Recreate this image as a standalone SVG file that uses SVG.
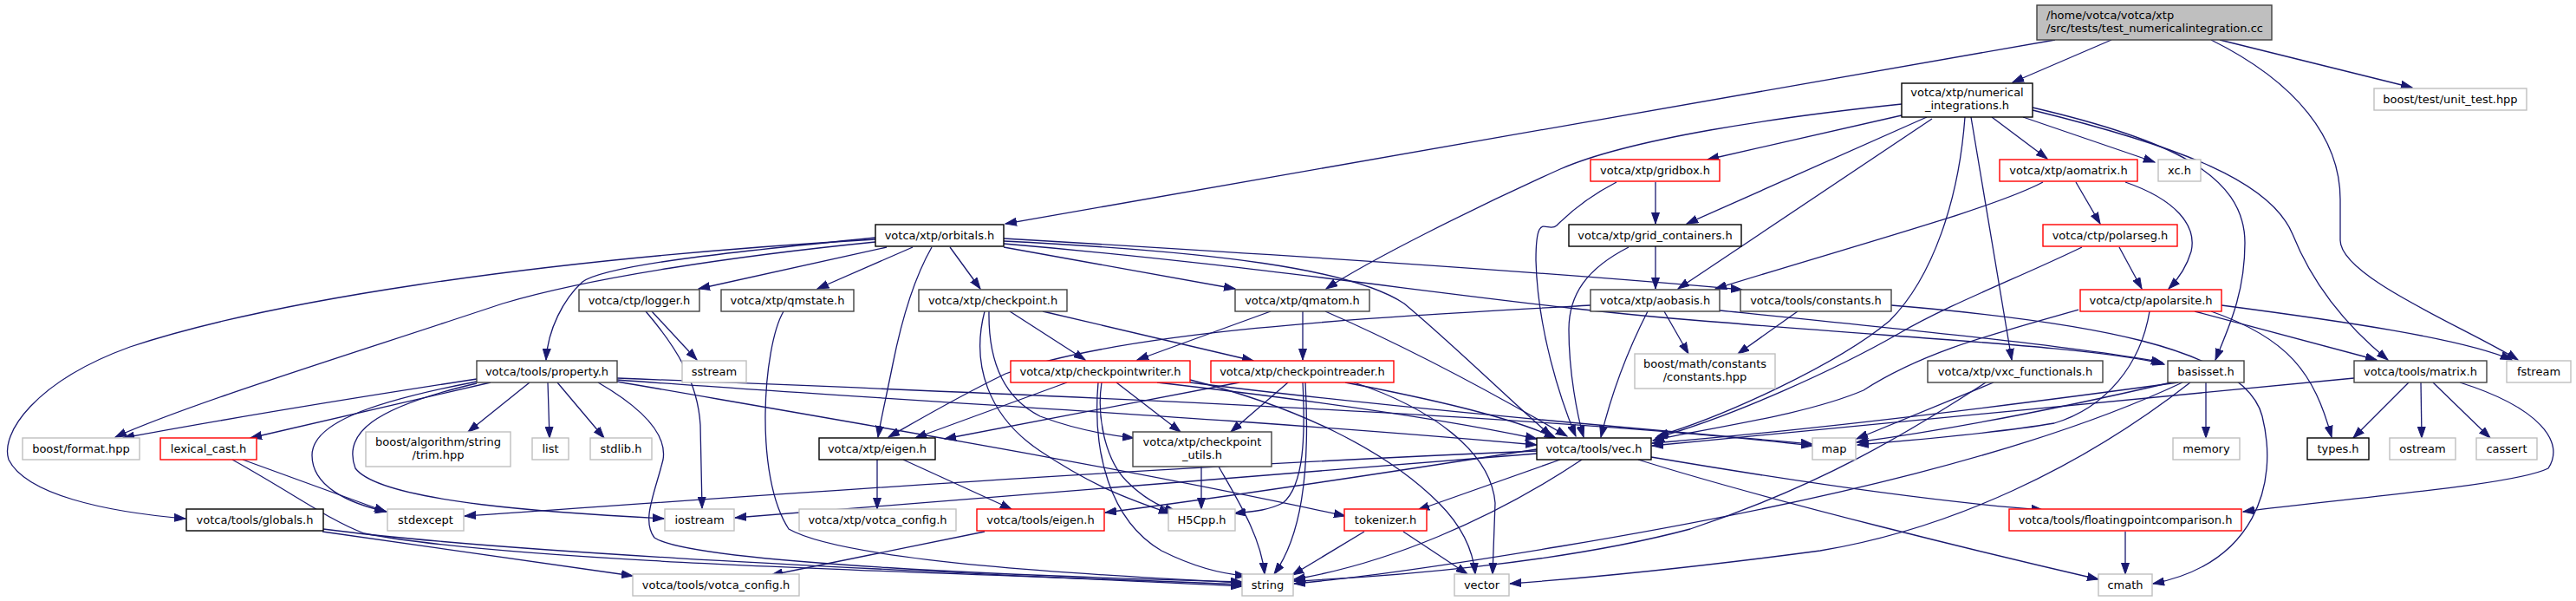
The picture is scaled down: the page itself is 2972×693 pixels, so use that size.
<svg xmlns="http://www.w3.org/2000/svg" width="2972" height="693" viewBox="0 0 2972 693">
<style>
rect{stroke-width:1.4}
.k rect{fill:#fff;stroke:#000}
.g rect{fill:#fff;stroke:#404040}
.r rect{fill:#fff;stroke:#ff0000}
.x rect{fill:#fff;stroke:#bfbfbf}
.root rect{fill:#bfbfbf;stroke:#404040}
text{font-family:"DejaVu Sans",sans-serif;font-size:13px;fill:#000;text-anchor:middle}
.root text{text-anchor:start}
#edges path{fill:none;stroke:#191970;stroke-width:1.3;marker-end:url(#ah)}
</style>
<defs>
<marker id="ah" markerWidth="14" markerHeight="10" refX="13" refY="5" orient="auto" markerUnits="userSpaceOnUse"><path d="M0,0.5 L13,5 L0,9.5 z" fill="#191970" stroke="#191970" stroke-width="1"/></marker>
</defs>
<rect width="2972" height="693" fill="#fff"/>
<g id="edges">
<path d="M2371,46 L1160,258"/>
<path d="M2436,46 L2322,95"/>
<path d="M2561,46 L2783,101"/>
<path d="M2551,46 C2650,95 2700,160 2700,230 L2700,277 C2700,320 2850,380 2905,415"/>
<path d="M2194,133 L1970,184"/>
<path d="M2223,135 L1946,258"/>
<path d="M2229,137 L1936,333"/>
<path d="M2194,120 C2050,135 1880,160 1800,195 C1700,240 1580,300 1530,333"/>
<path d="M2267,135 C2260,230 2230,320 2180,370 C2120,420 1990,480 1912,503"/>
<path d="M2274,135 L2321,415"/>
<path d="M2298,135 L2362,183"/>
<path d="M2334,135 L2486,187"/>
<path d="M2345,124 C2500,160 2590,200 2590,280 C2590,340 2570,380 2556,415"/>
<path d="M2345,127 C2520,170 2620,210 2645,270 C2665,320 2700,370 2755,415"/>
<path d="M1910,210 L1910,258"/>
<path d="M1865,210 C1830,228 1808,248 1796,260 C1785,270 1772,240 1772,300 C1774,380 1800,460 1818,503"/>
<path d="M1910,284 L1910,333"/>
<path d="M1879,285 C1830,310 1810,340 1810,380 C1810,430 1820,480 1827,504"/>
<path d="M2395,210 L2423,258"/>
<path d="M2452,210 C2510,230 2535,260 2528,290 C2522,310 2510,325 2502,333"/>
<path d="M2357,210 C2300,240 2150,280 1979,333"/>
<path d="M2445,285 L2471,333"/>
<path d="M2402,285 C2330,320 2250,350 2190,385 C2120,425 2000,480 1910,505"/>
<path d="M2563,352 C2700,370 2840,390 2898,415"/>
<path d="M2532,359 L2742,415"/>
<path d="M2551,359 C2640,390 2670,430 2690,504"/>
<path d="M2480,359 C2470,420 2430,470 2370,488 C2300,500 2200,508 2143,513"/>
<path d="M2398,357 C2300,385 2220,405 2150,450 C2080,480 1960,495 1907,508"/>
<path d="M1023,285 L806,333"/>
<path d="M1053,285 L943,333"/>
<path d="M1096,285 L1131,333"/>
<path d="M1158,285 L1425,333"/>
<path d="M1075,285 C1055,320 1040,370 1030,420 C1022,460 1016,485 1013,504"/>
<path d="M1010,274 C850,290 700,305 672,325 C650,345 632,380 630,415"/>
<path d="M1010,276 C600,300 300,350 150,400 C40,440 0,500 10,530 C30,570 120,590 214,598"/>
<path d="M1010,279 C850,295 680,320 580,350 C400,410 220,465 133,504"/>
<path d="M1158,275 C1500,295 1800,315 2010,334"/>
<path d="M1158,278 C1400,290 1560,310 1620,350 C1680,400 1740,460 1790,503"/>
<path d="M1158,281 C1500,310 1750,355 1990,372 C2200,390 2420,400 2497,420"/>
<path d="M752,359 L804,415"/>
<path d="M745,359 C780,400 805,440 808,490 L810,586"/>
<path d="M904,359 C880,400 870,550 910,610 C980,650 1300,665 1433,672"/>
<path d="M1165,359 L1252,415"/>
<path d="M1203,359 L1446,416"/>
<path d="M1136,359 C1120,420 1140,480 1200,520 C1260,560 1300,575 1350,592"/>
<path d="M1141,359 C1140,420 1160,460 1200,480 C1240,495 1280,502 1308,505"/>
<path d="M1503,359 L1503,415"/>
<path d="M1466,359 L1312,415"/>
<path d="M1529,359 C1600,390 1700,440 1808,503"/>
<path d="M1901,359 C1880,400 1860,450 1847,504"/>
<path d="M1920,359 L1948,408"/>
<path d="M1984,358 C2200,380 2400,400 2495,418"/>
<path d="M1835,352 C1600,365 1300,380 1160,431 C1100,460 1050,490 1025,504"/>
<path d="M2074,359 L2005,408"/>
<path d="M2182,352 C2400,370 2590,400 2610,480 C2630,560 2600,650 2484,673"/>
<path d="M550,437 C400,460 250,485 142,505"/>
<path d="M566,441 L289,505"/>
<path d="M611,441 L540,498"/>
<path d="M632,441 L634,505"/>
<path d="M643,441 L697,505"/>
<path d="M550,440 C420,465 360,490 360,525 C360,560 400,580 446,590"/>
<path d="M550,442 C430,470 395,500 410,540 C440,580 650,592 766,598"/>
<path d="M690,441 C740,470 770,500 765,530 C755,570 740,600 755,620 C800,650 1200,665 1433,671"/>
<path d="M712,438 C1000,460 1400,480 1773,513"/>
<path d="M712,436 C1200,455 1800,480 2091,514"/>
<path d="M712,440 C1000,490 1300,540 1552,595"/>
<path d="M280,530 L445,590"/>
<path d="M268,530 C340,570 380,600 420,615 C600,650 1100,660 1433,674"/>
<path d="M373,610 C600,640 1100,660 1433,676"/>
<path d="M372,613 L730,664"/>
<path d="M1012,530 L1012,587"/>
<path d="M1042,530 L1167,587"/>
<path d="M1231,441 L1056,505"/>
<path d="M1288,441 L1362,498"/>
<path d="M1271,441 C1265,480 1275,530 1300,555 C1320,575 1340,585 1357,590"/>
<path d="M1267,441 C1260,520 1280,600 1340,635 C1380,655 1410,662 1438,664"/>
<path d="M1335,441 C1500,460 1650,480 1773,506"/>
<path d="M1373,441 C1600,470 1900,495 2091,512"/>
<path d="M1373,438 C1500,470 1600,520 1660,580 C1690,610 1700,640 1702,662"/>
<path d="M1430,441 L1090,506"/>
<path d="M1486,441 L1420,498"/>
<path d="M1503,441 C1506,500 1505,560 1480,580 C1460,590 1440,590 1424,592"/>
<path d="M1506,441 C1512,550 1500,620 1470,662"/>
<path d="M1552,441 C1650,460 1740,480 1795,505"/>
<path d="M1562,441 C1650,470 1720,520 1725,580 L1722,662"/>
<path d="M1386,538 L1386,587"/>
<path d="M1406,538 C1430,580 1455,620 1459,662"/>
<path d="M1136,613 L890,663"/>
<path d="M1574,613 L1491,663"/>
<path d="M1619,613 L1693,662"/>
<path d="M2452,613 L2452,662"/>
<path d="M2779,441 L2715,505"/>
<path d="M2793,441 L2794,505"/>
<path d="M2807,441 L2873,505"/>
<path d="M2838,441 C2930,470 2960,510 2940,540 C2900,560 2700,575 2588,590"/>
<path d="M2716,436 C2400,465 2100,495 1906,514"/>
<path d="M2545,441 L2545,505"/>
<path d="M2505,441 C2380,470 2250,495 2142,510"/>
<path d="M2513,441 C2300,470 2100,495 1906,511"/>
<path d="M2527,441 C2400,540 2250,610 2100,635 C1950,655 1850,665 1742,673"/>
<path d="M2518,441 C2350,520 2100,580 1800,630 C1650,655 1550,668 1493,673"/>
<path d="M2300,441 L2142,506"/>
<path d="M2291,441 C2200,500 2100,560 1950,610 C1800,650 1600,665 1493,670"/>
<path d="M1905,527 C2100,560 2250,580 2357,588"/>
<path d="M1890,530 C2050,580 2300,640 2421,668"/>
<path d="M1825,530 C1720,600 1600,650 1493,668"/>
<path d="M1800,530 L1636,588"/>
<path d="M1773,523 C1400,550 1100,575 848,597"/>
<path d="M1773,520 C1300,540 900,570 536,595"/>
<path d="M1773,518 C1600,545 1400,575 1275,591"/>
</g>
<g id="n_root" class="root"><rect x="2350" y="6" width="271" height="40"/><text x="2361" y="22">/home/votca/votca/xtp</text><text x="2361" y="37">/src/tests/test_numericalintegration.cc</text></g>
<g id="n_numint" class="k"><rect x="2194" y="96" width="151" height="39"/><text x="2269.5" y="111">votca/xtp/numerical</text><text x="2269.5" y="126">_integrations.h</text></g>
<g id="n_unittest" class="x"><rect x="2739" y="102" width="176" height="25"/><text x="2827" y="119">boost/test/unit_test.hpp</text></g>
<g id="n_gridbox" class="r"><rect x="1835" y="184" width="149" height="25"/><text x="1909.5" y="201">votca/xtp/gridbox.h</text></g>
<g id="n_aomatrix" class="r"><rect x="2307" y="184" width="159" height="25"/><text x="2386.5" y="201">votca/xtp/aomatrix.h</text></g>
<g id="n_xc" class="x"><rect x="2490" y="184" width="49" height="25"/><text x="2514.5" y="201">xc.h</text></g>
<g id="n_orbitals" class="k"><rect x="1010" y="259" width="148" height="25"/><text x="1084" y="276">votca/xtp/orbitals.h</text></g>
<g id="n_gridcont" class="k"><rect x="1810" y="259" width="199" height="25"/><text x="1909.5" y="276">votca/xtp/grid_containers.h</text></g>
<g id="n_polarseg" class="r"><rect x="2357" y="259" width="155" height="25"/><text x="2434.5" y="276">votca/ctp/polarseg.h</text></g>
<g id="n_logger" class="g"><rect x="668" y="334" width="139" height="25"/><text x="737.5" y="351">votca/ctp/logger.h</text></g>
<g id="n_qmstate" class="g"><rect x="832" y="334" width="153" height="25"/><text x="908.5" y="351">votca/xtp/qmstate.h</text></g>
<g id="n_checkpoint" class="g"><rect x="1060" y="334" width="171" height="25"/><text x="1145.5" y="351">votca/xtp/checkpoint.h</text></g>
<g id="n_qmatom" class="g"><rect x="1425" y="334" width="155" height="25"/><text x="1502.5" y="351">votca/xtp/qmatom.h</text></g>
<g id="n_aobasis" class="g"><rect x="1835" y="334" width="149" height="25"/><text x="1909.5" y="351">votca/xtp/aobasis.h</text></g>
<g id="n_constants" class="g"><rect x="2008" y="334" width="174" height="25"/><text x="2095" y="351">votca/tools/constants.h</text></g>
<g id="n_apolarsite" class="r"><rect x="2400" y="334" width="163" height="25"/><text x="2481.5" y="351">votca/ctp/apolarsite.h</text></g>
<g id="n_property" class="g"><rect x="550" y="416" width="162" height="25"/><text x="631" y="433">votca/tools/property.h</text></g>
<g id="n_sstream" class="x"><rect x="787" y="416" width="74" height="25"/><text x="824" y="433">sstream</text></g>
<g id="n_cpwriter" class="r"><rect x="1166" y="416" width="207" height="25"/><text x="1269.5" y="433">votca/xtp/checkpointwriter.h</text></g>
<g id="n_cpreader" class="r"><rect x="1397" y="416" width="211" height="25"/><text x="1502.5" y="433">votca/xtp/checkpointreader.h</text></g>
<g id="n_boostconst" class="x"><rect x="1886" y="408" width="162" height="40"/><text x="1967" y="424">boost/math/constants</text><text x="1967" y="439">/constants.hpp</text></g>
<g id="n_vxc" class="g"><rect x="2224" y="416" width="202" height="25"/><text x="2325" y="433">votca/xtp/vxc_functionals.h</text></g>
<g id="n_basisset" class="g"><rect x="2501" y="416" width="88" height="25"/><text x="2545" y="433">basisset.h</text></g>
<g id="n_matrix" class="g"><rect x="2716" y="416" width="153" height="25"/><text x="2792.5" y="433">votca/tools/matrix.h</text></g>
<g id="n_fstream" class="x"><rect x="2892" y="416" width="74" height="25"/><text x="2929" y="433">fstream</text></g>
<g id="n_format" class="x"><rect x="26" y="505" width="135" height="25"/><text x="93.5" y="522">boost/format.hpp</text></g>
<g id="n_lexcast" class="r"><rect x="185" y="505" width="111" height="25"/><text x="240.5" y="522">lexical_cast.h</text></g>
<g id="n_trim" class="x"><rect x="422" y="498" width="167" height="40"/><text x="505.5" y="514">boost/algorithm/string</text><text x="505.5" y="529">/trim.hpp</text></g>
<g id="n_list" class="x"><rect x="614" y="505" width="42" height="25"/><text x="635" y="522">list</text></g>
<g id="n_stdlib" class="x"><rect x="681" y="505" width="71" height="25"/><text x="716.5" y="522">stdlib.h</text></g>
<g id="n_xeigen" class="k"><rect x="945" y="505" width="134" height="25"/><text x="1012" y="522">votca/xtp/eigen.h</text></g>
<g id="n_cputils" class="g"><rect x="1307" y="498" width="160" height="40"/><text x="1387" y="514">votca/xtp/checkpoint</text><text x="1387" y="529">_utils.h</text></g>
<g id="n_vec" class="k"><rect x="1773" y="505" width="132" height="25"/><text x="1839" y="522">votca/tools/vec.h</text></g>
<g id="n_map" class="x"><rect x="2091" y="505" width="50" height="25"/><text x="2116" y="522">map</text></g>
<g id="n_memory" class="x"><rect x="2507" y="505" width="77" height="25"/><text x="2545.5" y="522">memory</text></g>
<g id="n_types" class="k"><rect x="2662" y="505" width="71" height="25"/><text x="2697.5" y="522">types.h</text></g>
<g id="n_ostream" class="x"><rect x="2757" y="505" width="76" height="25"/><text x="2795" y="522">ostream</text></g>
<g id="n_cassert" class="x"><rect x="2857" y="505" width="70" height="25"/><text x="2892" y="522">cassert</text></g>
<g id="n_globals" class="k"><rect x="215" y="587" width="158" height="25"/><text x="294" y="604">votca/tools/globals.h</text></g>
<g id="n_stdexcept" class="x"><rect x="447" y="587" width="88" height="25"/><text x="491" y="604">stdexcept</text></g>
<g id="n_iostream" class="x"><rect x="767" y="587" width="80" height="25"/><text x="807" y="604">iostream</text></g>
<g id="n_xconfig" class="x"><rect x="922" y="587" width="181" height="25"/><text x="1012.5" y="604">votca/xtp/votca_config.h</text></g>
<g id="n_teigen" class="r"><rect x="1127" y="587" width="147" height="25"/><text x="1200.5" y="604">votca/tools/eigen.h</text></g>
<g id="n_h5cpp" class="x"><rect x="1348" y="587" width="77" height="25"/><text x="1386.5" y="604">H5Cpp.h</text></g>
<g id="n_tokenizer" class="r"><rect x="1551" y="587" width="95" height="25"/><text x="1598.5" y="604">tokenizer.h</text></g>
<g id="n_fpcomp" class="r"><rect x="2318" y="587" width="268" height="25"/><text x="2452" y="604">votca/tools/floatingpointcomparison.h</text></g>
<g id="n_tconfig" class="x"><rect x="730" y="662" width="192" height="25"/><text x="826" y="679">votca/tools/votca_config.h</text></g>
<g id="n_string" class="x"><rect x="1433" y="662" width="59" height="25"/><text x="1462.5" y="679">string</text></g>
<g id="n_vector" class="x"><rect x="1678" y="662" width="63" height="25"/><text x="1709.5" y="679">vector</text></g>
<g id="n_cmath" class="x"><rect x="2421" y="662" width="62" height="25"/><text x="2452" y="679">cmath</text></g>
</svg>
